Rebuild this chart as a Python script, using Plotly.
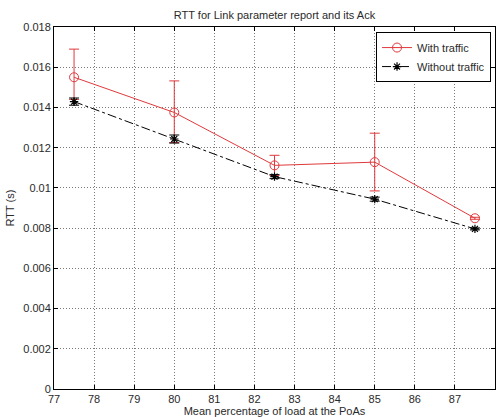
import plotly.graph_objects as go

load_pct = [77.5, 80, 82.5, 85, 87.5]
rtt_with = [0.0155, 0.01375, 0.01112, 0.01128, 0.00849]
err_with_plus = [0.0014, 0.00157, 0.0005, 0.00144, 0.00005]
err_with_minus = [0.0011, 0.0015, 0.0005, 0.00143, 0.00005]
rtt_without = [0.01429, 0.01243, 0.01056, 0.00944, 0.00796]
err_without = [0.00018, 0.0002, 0.0001, 0.0001, 0.00005]

y_ticks = [0, 0.002, 0.004, 0.006, 0.008, 0.01, 0.012, 0.014, 0.016, 0.018]
y_labels = ["0", "0.002", "0.004", "0.006", "0.008", "0.01", "0.012", "0.014", "0.016", "0.018"]
x_ticks = list(range(77, 89))

red = "#e0393c"
font = "Arial, Liberation Sans, sans-serif"
txt = "#2a2a2a"

fig = go.Figure()
fig.add_trace(go.Scatter(
    x=load_pct, y=rtt_with, name="With traffic", mode="lines+markers",
    line=dict(color=red, width=1),
    marker=dict(symbol="circle-open", size=9, color=red, line=dict(width=1)),
    error_y=dict(type="data", array=err_with_plus, arrayminus=err_with_minus,
                 color=red, thickness=1, width=5),
))
fig.add_trace(go.Scatter(
    x=load_pct, y=rtt_without, name="Without traffic", mode="lines+markers",
    line=dict(color="black", width=1, dash="dashdot"),
    marker=dict(symbol="asterisk-open", size=7, color="black", line=dict(width=1.2, color="black")),
    error_y=dict(type="data", array=err_without, color="black", thickness=1, width=5),
))

axis_common = dict(
    showline=True, linecolor="black", linewidth=1, mirror="ticks",
    ticks="inside", ticklen=4, tickcolor="black",
    showgrid=True, gridcolor="#7a7a7a", griddash="1px,2px", gridwidth=1,
    zeroline=False, automargin=False,
    tickfont=dict(family=font, size=11, color=txt),
)

fig.update_layout(
    width=498, height=417,
    margin=dict(l=54, r=3, t=27, b=28),
    paper_bgcolor="white", plot_bgcolor="white",
    title=dict(text="RTT for Link parameter report and its Ack", xref="paper", x=0.5,
               xanchor="center", yref="container", y=0.963, yanchor="middle",
               font=dict(family=font, size=11, color=txt)),
    xaxis=dict(range=[77, 88], tickvals=x_ticks,
               title=dict(text="Mean percentage of load at the PoAs", standoff=0,
                          font=dict(family=font, size=11, color=txt)),
               **axis_common),
    yaxis=dict(range=[0, 0.018], tickvals=y_ticks, ticktext=y_labels,
               title=dict(text="RTT (s)", standoff=6,
                          font=dict(family=font, size=11, color=txt)),
               **axis_common),
    legend=dict(x=0.991, y=0.986, xanchor="right", yanchor="top",
                bordercolor="black", borderwidth=1, bgcolor="white",
                font=dict(family=font, size=11, color=txt),
                tracegroupgap=0, itemwidth=30),
    showlegend=True,
)

fig.write_html("out.html", config={"displayModeBar": False},
               post_script="document.body.style.margin='0';")
